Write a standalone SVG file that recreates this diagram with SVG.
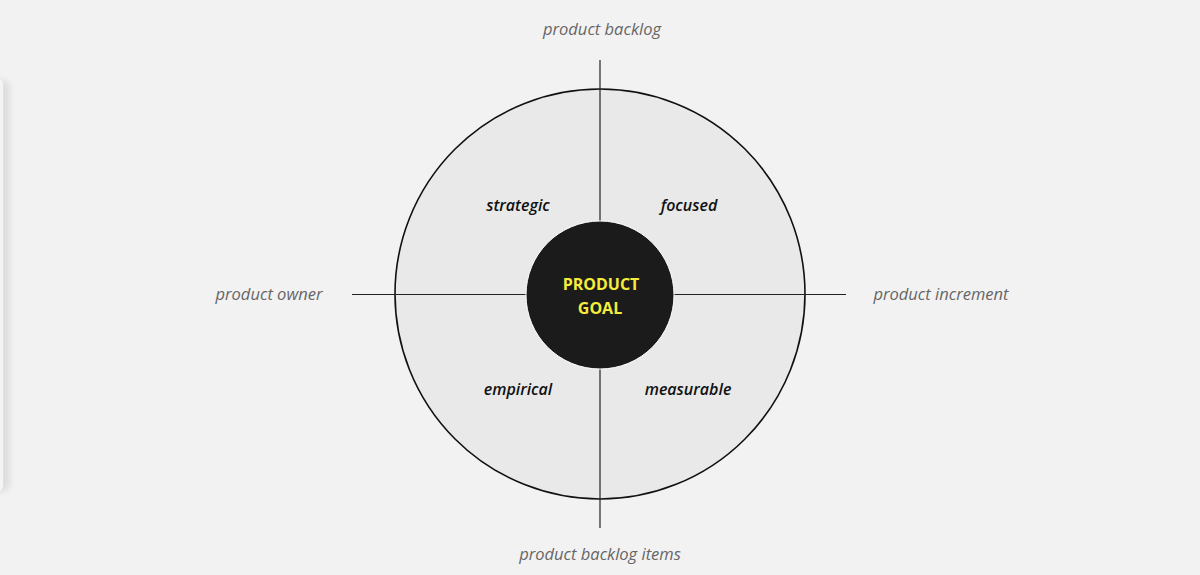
<svg xmlns="http://www.w3.org/2000/svg" width="1200" height="575" viewBox="0 0 1200 575">
<style>
.outer{font-family:"Open Sans","Liberation Sans",sans-serif;font-style:italic;font-size:16.5px;fill:#666;text-anchor:middle}
.quad{font-family:"Open Sans","Liberation Sans",sans-serif;font-style:italic;font-weight:600;font-size:16px;fill:#111;text-anchor:middle}
.goal{font-family:"Open Sans","Liberation Sans",sans-serif;font-weight:bold;font-size:16px;fill:#f5ec3c;text-anchor:middle}
.ln{stroke:#222;stroke-width:1.2}
</style>
<defs>
<filter id="sh" x="-50%" y="-10%" width="200%" height="120%">
<feGaussianBlur stdDeviation="3"/>
</filter>
</defs>
<rect width="1200" height="575" fill="#f2f2f2"/>
<g id="panel">
<rect x="-20" y="80" width="30" height="412" rx="8" fill="#000" opacity="0.08" filter="url(#sh)"/>
<rect x="-20" y="78" width="23" height="414" rx="6" fill="#f4f4f4"/>
</g>
<g id="outer-circle">
<circle cx="600" cy="294" r="205" fill="#e9e9e9" stroke="#111" stroke-width="1.6"/>
</g>
<g id="connectors">
<line class="ln" x1="600" y1="60" x2="600" y2="528"/>
<line class="ln" x1="352" y1="294.5" x2="846" y2="294.5"/>
</g>
<g id="goal">
<circle cx="600" cy="295" r="74" fill="#1b1b1b" stroke="#fff" stroke-width="1"/>
<text class="goal" x="601" y="290">PRODUCT</text>
<text class="goal" x="600" y="314">GOAL</text>
</g>
<g id="strategic"><text class="quad" x="518" y="211">strategic</text></g>
<g id="focused"><text class="quad" x="689" y="211">focused</text></g>
<g id="empirical"><text class="quad" x="518" y="395">empirical</text></g>
<g id="measurable"><text class="quad" x="688" y="395">measurable</text></g>
<g id="product-backlog"><text class="outer" x="602" y="35">product backlog</text></g>
<g id="product-owner"><text class="outer" x="269" y="300">product owner</text></g>
<g id="product-increment"><text class="outer" x="941" y="300">product increment</text></g>
<g id="product-backlog-items"><text class="outer" x="600" y="560">product backlog items</text></g>
</svg>
